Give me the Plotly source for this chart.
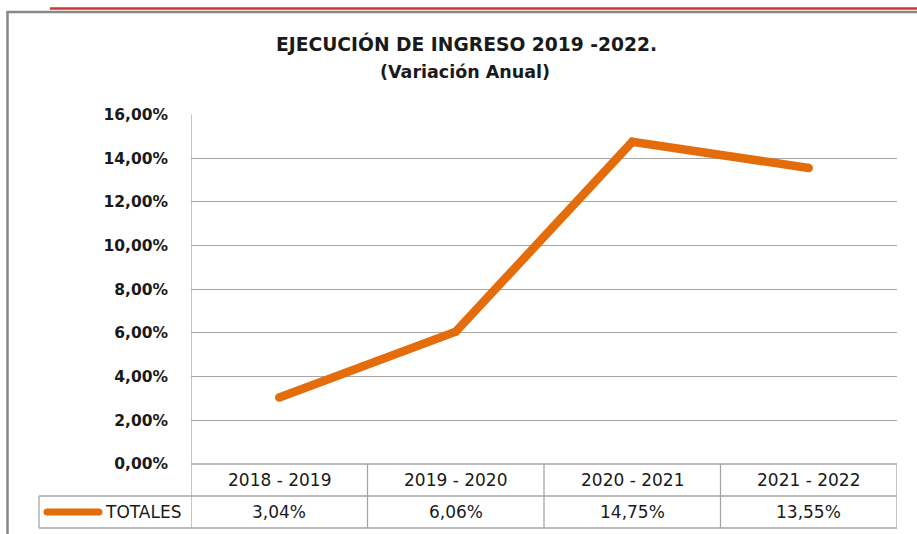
import plotly.graph_objects as go

# Annual variation of revenue execution
periodos = ["2018 - 2019", "2019 - 2020", "2020 - 2021", "2021 - 2022"]
variacion = [3.04, 6.06, 14.75, 13.55]
serie = "TOTALES"
titulo = ["EJECUCIÓN DE INGRESO 2019 -2022.", "(Variación Anual)"]

W, H = 917, 534
NARANJA = "#E46C0A"
GRIS_TABLA = "#a6a6a6"
FONT = "DejaVu Sans"
TXT = "#1a1a1a"


def px(x):
    return x / W


def py(y):
    return 1 - y / H


# plot area in pixels
X0, X1 = 191, 897
Y_TOP, Y_ZERO = 114.5, 464
ROW1, ROW2 = 496, 528
LEG_X = 39

fig = go.Figure()

fig.add_trace(go.Scatter(
    x=list(range(len(periodos))), y=variacion,
    mode="lines+markers",
    line=dict(color=NARANJA, width=8.5),
    marker=dict(color=NARANJA, size=8.5),
    hoverinfo="skip", showlegend=False,
))

shapes = []
line_style = dict(color=GRIS_TABLA, width=1.3)

# data table: horizontal rules
shapes.append(dict(type="line", xref="paper", yref="paper",
                   x0=px(X0), x1=px(X1), y0=py(Y_ZERO), y1=py(Y_ZERO), line=line_style))
for yy in (ROW1, ROW2):
    shapes.append(dict(type="line", xref="paper", yref="paper",
                       x0=px(LEG_X), x1=px(X1), y0=py(yy), y1=py(yy), line=line_style))
# vertical rules between categories
for i in range(len(periodos) + 1):
    top = Y_TOP if i == 0 else Y_ZERO
    shapes.append(dict(type="line", xref="x", yref="paper",
                       x0=i - 0.5, x1=i - 0.5, y0=py(top), y1=py(ROW2), line=line_style))
shapes.append(dict(type="line", xref="paper", yref="paper",
                   x0=px(LEG_X), x1=px(LEG_X), y0=py(ROW1), y1=py(ROW2), line=line_style))

# legend key in the table
lk_y, lk_h = 512, 7
shapes.append(dict(type="rect", xref="paper", yref="paper",
                   x0=px(47), x1=px(99), y0=py(lk_y - lk_h / 2), y1=py(lk_y + lk_h / 2),
                   fillcolor=NARANJA, line=dict(width=0)))
for cx in (47, 99):
    shapes.append(dict(type="circle", xref="paper", yref="paper",
                       x0=px(cx - lk_h / 2), x1=px(cx + lk_h / 2),
                       y0=py(lk_y - lk_h / 2), y1=py(lk_y + lk_h / 2),
                       fillcolor=NARANJA, line=dict(width=0)))

# outer frame and top accent rule
shapes.append(dict(type="line", xref="paper", yref="paper",
                   x0=px(7.5), x1=px(7.5), y0=py(11.5), y1=0,
                   line=dict(color="#888888", width=2.5)))
shapes.append(dict(type="line", xref="paper", yref="paper",
                   x0=px(6.5), x1=1, y0=py(12), y1=py(12),
                   line=dict(color="#888888", width=2.5)))
shapes.append(dict(type="line", xref="paper", yref="paper",
                   x0=px(50), x1=1, y0=py(8.5), y1=py(8.5),
                   line=dict(color="#cf3539", width=2.5)))

annotations = []
cell_font = dict(family=FONT, size=17, color=TXT)
for i, (p, v) in enumerate(zip(periodos, variacion)):
    annotations.append(dict(x=i, xref="x", y=py((Y_ZERO + ROW1) / 2), yref="paper",
                            text=p, showarrow=False, xanchor="center", yanchor="middle",
                            font=cell_font))
    annotations.append(dict(x=i, xref="x", y=py((ROW1 + ROW2) / 2), yref="paper",
                            text=f"{v:.2f}".replace(".", ",") + "%", showarrow=False,
                            xanchor="center", yanchor="middle", font=cell_font))
annotations.append(dict(x=px(103), xref="paper", y=py((ROW1 + ROW2) / 2), yref="paper",
                        text=serie, showarrow=False, xanchor="left", yanchor="middle",
                        font=cell_font))

# two-line title
annotations.append(dict(x=px(466.5), xref="paper", y=py(44), yref="paper",
                        text=titulo[0], showarrow=False, xanchor="center", yanchor="middle",
                        font=dict(family=FONT, size=18.7, color=TXT, weight="bold")))
annotations.append(dict(x=px(465), xref="paper", y=py(72), yref="paper",
                        text=titulo[1], showarrow=False, xanchor="center", yanchor="middle",
                        font=dict(family=FONT, size=17.5, color=TXT, weight="bold")))

fig.update_layout(
    width=W, height=H,
    margin=dict(l=0, r=0, t=0, b=0, autoexpand=False),
    paper_bgcolor="white", plot_bgcolor="white",
    separators=",.",
    xaxis=dict(domain=[px(X0), px(X1)], range=[-0.5, len(periodos) - 0.5],
               showgrid=False, showticklabels=False, zeroline=False, showline=False,
               automargin=False, fixedrange=True),
    yaxis=dict(domain=[py(Y_ZERO), py(Y_TOP)], range=[0, 16], dtick=2,
               tickformat=".2f", ticksuffix="%",
               showgrid=True, gridcolor="#a6a6a6", gridwidth=1.2,
               zeroline=False, showline=False, ticks="",
               ticklabelstandoff=22, automargin=False,
               tickfont=dict(family=FONT, size=15.5, color=TXT, weight="bold"),
               fixedrange=True),
    shapes=shapes,
    annotations=annotations,
    showlegend=False,
)

fig.write_html("out.html")
